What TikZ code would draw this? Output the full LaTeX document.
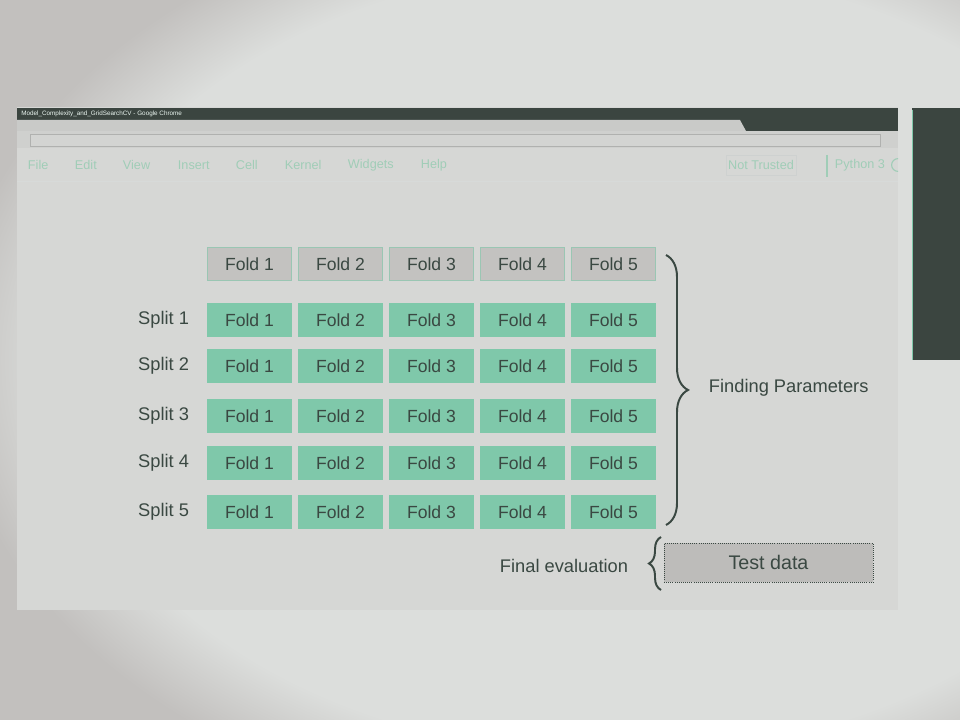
\documentclass[tikz,border=0pt]{standalone}
\usepackage{fontspec}
\setmainfont{Liberation Sans}
\usetikzlibrary{decorations.pathreplacing}
\definecolor{outerbg}{HTML}{C2C0BE}
\definecolor{lightbg}{HTML}{DCDEDC}
\definecolor{screenbg}{HTML}{D6D7D5}
\definecolor{barbg}{HTML}{3B4540}
\definecolor{tabbg}{HTML}{C9CAC8}
\definecolor{addrbg}{HTML}{CFD0CE}
\definecolor{foldgreen}{HTML}{7FC8AA}
\definecolor{foldgray}{HTML}{C3C2C0}
\definecolor{inkdark}{HTML}{3A4842}
\definecolor{menuink}{HTML}{A0CDB7}
\pgfdeclareradialshading{vignette}{\pgfpoint{0bp}{0bp}}{color(0bp)=(lightbg); color(20.5bp)=(lightbg); color(24.5bp)=(outerbg); color(50bp)=(outerbg)}

\begin{document}
\begin{tikzpicture}[x=0.025cm, y=-0.025cm,
		fold/.style={minimum width=2.1cm, minimum height=0.825cm, inner sep=0pt, fill=foldgreen, text=inkdark, font=\fontsize{12.5}{15}\selectfont},
		headfold/.style={fold, fill=foldgray, draw=foldgreen!60!foldgray, line width=0.6pt},
		sidelabel/.style={anchor=east, text=inkdark, font=\fontsize{13}{15}\selectfont},
		menuitem/.style={anchor=west, text=menuink, font=\fontsize{9}{11}\selectfont},
		curly/.style={draw=inkdark, line width=1.4pt, decorate, decoration={brace, amplitude=#1}}]
		%%%%% START %%%%%
		
		\useasboundingbox (0, 0) rectangle (960, 720);
		\fill[outerbg] (0, 0) rectangle (960, 720);
		\shade[shading=vignette] (615, 360) ellipse (17cm and 12cm);
		
		% screen
		\fill[screenbg] (17, 107) rectangle (898, 610);
		\fill[barbg] (17, 108) rectangle (898, 131);
		\node[anchor=west, text=white!85!foldgreen, font=\fontsize{4.5}{5}\selectfont, inner sep=0pt] (title) at (21, 114) {Model\_Complexity\_and\_GridSearchCV - Google Chrome};
		\fill[tabbg] (17, 120) -- (740, 120) -- (746, 131) -- (17, 131) -- cycle;
		\fill[addrbg] (17, 131) rectangle (898, 148);
		\draw[fill=screenbg!60!addrbg, draw=addrbg!85!black, line width=0.4pt] (30, 134) rectangle (880, 146);
		\draw[white!80!inkdark, line width=0.4pt] (17, 181) -- (898, 181);
		
		% menu
		\node[menuitem] (file) at (23, 165) {File};
		\node[menuitem] (edit) at (70, 165) {Edit};
		\node[menuitem] (view) at (118, 165) {View};
		\node[menuitem] (insert) at (173, 165) {Insert};
		\node[menuitem] (cell) at (231, 165) {Cell};
		\node[menuitem] (kernel) at (280, 165) {Kernel};
		\node[menuitem] (widgets) at (343, 165) {Widgets};
		\node[menuitem] (help) at (416, 165) {Help};
		\node[menuitem, anchor=center, draw=white!75!inkdark, minimum width=1.75cm, minimum height=0.5cm, inner sep=1pt] (trusted) at (761, 165) {Not Trusted};
		\draw[menuink, line width=0.8pt] (827, 155) -- (827, 177);
		\node[menuitem] (kernelname) at (830, 165) {Python 3};
		\begin{scope}
			\clip (17, 107) rectangle (898, 610);
			\draw[menuink, line width=0.8pt] (898, 165) circle (0.16cm);
		\end{scope}
		
		% side panel
		\fill[barbg] (912, 108) rectangle (960, 360);
		\draw[foldgreen, line width=0.5pt] (912, 110) -- (912, 360);
		
		% folds
		\foreach \c in {1,...,5}
			\node[headfold] (h\c) at ({158.5+91*\c}, 264) {Fold \c};
		\foreach \r/\y in {1/320, 2/366, 3/416, 4/463, 5/512} {
			\node[sidelabel] (s\r) at (194, \y) {Split \r};
			\foreach \c in {1,...,5}
				\node[fold] (f\r\c) at ({158.5+91*\c}, \y) {Fold \c};
		}
		
		% finding parameters
		\coordinate (ptop) at (666, 255);
		\coordinate (pbot) at (666, 525);
		\draw[curly=0.55cm] (ptop) -- (pbot);
		\node[anchor=west, text=inkdark, font=\fontsize{13}{15}\selectfont] (params) at (704, 388) {Finding Parameters};
		
		% test data
		\node[fold, fill=foldgray!97!black, draw=inkdark, densely dotted, line width=0.5pt, minimum width=5.225cm, minimum height=0.975cm, font=\fontsize{14}{16}\selectfont] (test) at (768.5, 562.5) {Test data};
		\coordinate (tbot) at (661, 590);
		\coordinate (ttop) at (661, 537);
		\draw[curly=0.3cm] (tbot) -- (ttop);
		\node[sidelabel] (final) at (633, 566) {Final evaluation};
		
		%%%%% END %%%%%
	\end{tikzpicture}
\end{document}
